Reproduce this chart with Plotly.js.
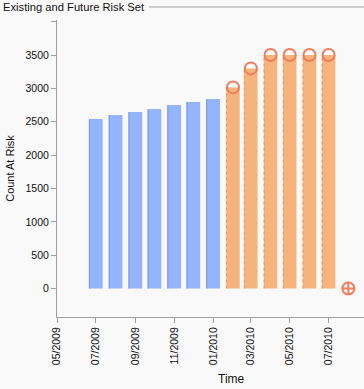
<!DOCTYPE html>
<html>
<head>
<meta charset="utf-8">
<script src="https://cdn.plot.ly/plotly-3.0.1.min.js"></script>
<style>
html,body{margin:0;padding:0;background:#f9f9f9;}
#chart{width:364px;height:389px;}
</style>
</head>
<body>
<div id="chart"></div>
<script>
// Existing risk set (observed)
var existingDates = ['2009-07-01','2009-08-01','2009-09-01','2009-10-01','2009-11-01','2009-12-01','2010-01-01'];
var existingCounts = [2540, 2600, 2645, 2690, 2750, 2795, 2840];
// Future risk set (projected)
var futureDates = ['2010-02-01','2010-03-01','2010-04-01','2010-05-01','2010-06-01','2010-07-01'];
var futureCounts = [3015, 3300, 3500, 3500, 3500, 3500];
// End point marker
var endDates = ['2010-08-01'];
var endCounts = [0];
// Axis ticks
var yTickVals = [0, 500, 1000, 1500, 2000, 2500, 3000, 3500, 4000];
var yTickText = ['0', '500', '1000', '1500', '2000', '2500', '3000', '3500', ''];
var xTickVals = ['2009-05-01','2009-07-01','2009-09-01','2009-11-01','2010-01-01','2010-03-01','2010-05-01','2010-07-01'];
var xTickText = ['05/2009','07/2009','09/2009','11/2009','01/2010','03/2010','05/2010','07/2010'];

var DAY = 86400000;
var barWidth = 21.2 * DAY;

function leftEdges(dates, vals) {
  var xs = [], ys = [];
  for (var i = 0; i < dates.length; i++) {
    var t = new Date(dates[i] + 'T00:00:00Z').getTime() - barWidth / 2 + 0.4 * DAY;
    var d = new Date(t).toISOString().replace('T', ' ').replace('Z', '');
    xs.push(d, d, null);
    ys.push(0, vals[i], null);
  }
  return {x: xs, y: ys};
}
var blueEdge = leftEdges(existingDates, existingCounts);
var orangeEdge = leftEdges(futureDates, futureCounts);

var traces = [
  {type: 'bar', x: existingDates, y: existingCounts, width: barWidth,
   marker: {color: '#94b4fb', line: {width: 0}}, hoverinfo: 'x+y'},
  {type: 'bar', x: futureDates, y: futureCounts, width: barWidth,
   marker: {color: '#f5b47b', line: {width: 0}}, hoverinfo: 'x+y'},
  {type: 'scatter', mode: 'lines', x: blueEdge.x, y: blueEdge.y,
   line: {color: '#6f95f2', width: 1}, hoverinfo: 'skip', connectgaps: false},
  {type: 'scatter', mode: 'lines', x: orangeEdge.x, y: orangeEdge.y,
   line: {color: '#e8925a', width: 1, dash: '3px,3px'}, hoverinfo: 'skip', connectgaps: false},
  {type: 'scatter', mode: 'markers', x: futureDates, y: futureCounts,
   marker: {symbol: 'circle-open', size: 12, color: '#f07c5c', line: {width: 2, color: '#f07c5c'}}},
  {type: 'scatter', mode: 'markers', x: endDates, y: endCounts,
   marker: {symbol: 'circle-cross-open', size: 12, color: '#f07c5c', line: {width: 2, color: '#f07c5c'}}}
];

var layout = {
  width: 364, height: 389,
  paper_bgcolor: '#f9f9f9', plot_bgcolor: '#f9f9f9',
  showlegend: false,
  barmode: 'overlay',
  margin: {l: 57, r: 0, t: 20, b: 72, pad: 0},
  font: {family: 'Liberation Sans, Arial, sans-serif', size: 10.5, color: '#111111'},
  xaxis: {
    type: 'date',
    range: ['2009-05-01', '2010-08-25 12:00'],
    tickvals: xTickVals, ticktext: xTickText,
    tickangle: -90,
    ticks: 'outside', ticklen: 5, tickcolor: '#a0a0a0',
    showline: true, linecolor: '#a0a0a0', linewidth: 1,
    showgrid: false, zeroline: false,
    tickfont: {size: 10.5}
  },
  yaxis: {
    range: [-426, 4025],
    tickvals: yTickVals, ticktext: yTickText,
    ticks: 'outside', ticklen: 5, tickcolor: '#a0a0a0',
    showline: true, linecolor: '#a0a0a0', linewidth: 1,
    showgrid: false, zeroline: false,
    title: {text: 'Count At Risk', font: {size: 11}, standoff: 8},
    tickfont: {size: 10.5}
  },
  annotations: [
    {text: 'Existing and Future Risk Set', xref: 'paper', yref: 'paper',
     x: -0.182, y: 1.044, xanchor: 'left', yanchor: 'middle', showarrow: false,
     font: {size: 11.2, color: '#111111'}},
    {text: 'Time', xref: 'paper', yref: 'paper',
     x: 0.5696, y: -0.21, xanchor: 'center', yanchor: 'middle', showarrow: false,
     font: {size: 12, color: '#111111'}}
  ],
  shapes: [
    {type: 'line', xref: 'paper', yref: 'paper', x0: 0.30, x1: 1.0, y0: 1.0438, y1: 1.0438,
     line: {color: '#a0a0a0', width: 1}}
  ]
};

Plotly.newPlot('chart', traces, layout, {displayModeBar: false, staticPlot: true});
</script>
</body>
</html>
